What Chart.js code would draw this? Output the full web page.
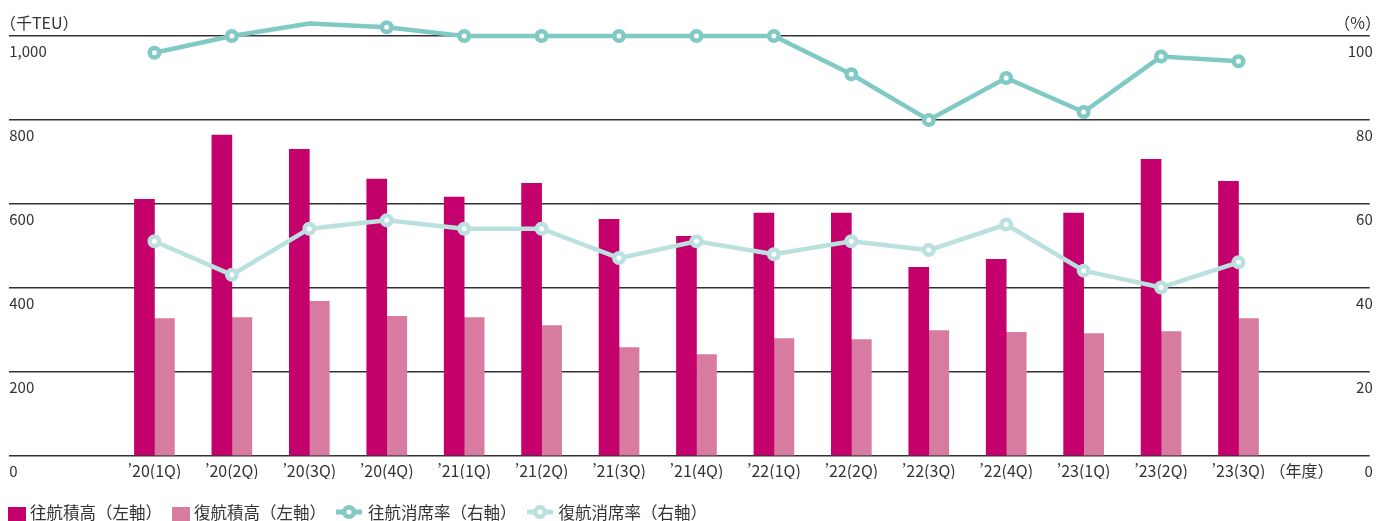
<!DOCTYPE html>
<html lang="ja">
<head>
<meta charset="utf-8">
<title>往航・復航 積高と消席率</title>
<script src="https://cdn.jsdelivr.net/npm/chart.js@4"></script>
<style>
	body { margin: 0; background: #ffffff; }
	#wrap { position: relative; width: 1379px; height: 521px; overflow: hidden; }
	#legend { position: absolute; left: 8px; top: 502px; display: flex; gap: 10px; font: 16.5px "Noto Sans CJK JP", sans-serif; line-height: 20px; color: #333333; white-space: nowrap; }
	#legend .item { display: flex; align-items: flex-start; }
	#legend .box { width: 18px; height: 18px; margin: 5px 4px 0 0; }
	#legend svg { margin: 3px 6px 0 0; }
</style>
</head>
<body>
<div id="wrap">
	<canvas id="chart"></canvas>
	<div id="legend"></div>
</div>
<script>
const quarters = ["’20(1Q)", "’20(2Q)", "’20(3Q)", "’20(4Q)", "’21(1Q)", "’21(2Q)", "’21(3Q)", "’21(4Q)", "’22(1Q)", "’22(2Q)", "’22(3Q)", "’22(4Q)", "’23(1Q)", "’23(2Q)", "’23(3Q)"];
const yearLabel = "（年度）";
const leftUnit = "（千TEU）";
const rightUnit = "（%）";

// 千TEU (左軸)
const outboundVolume = [611, 764, 730, 659, 616, 649, 563, 523, 578, 578, 449, 468, 578, 706, 654];
const inboundVolume = [327, 329, 368, 332, 329, 310, 258, 241, 279, 277, 298, 294, 291, 296, 327];

// % (右軸)
const outboundLoadFactor = [96.0, 100, 103.0, 102.1, 100, 100, 100, 100, 100, 90.9, 80.0, 90.0, 81.9, 95.1, 94.0];
const inboundLoadFactor = [51.1, 43.1, 54.1, 56.1, 54.1, 54.1, 47.1, 51.1, 48.0, 51.1, 49.0, 55.1, 44.1, 40.1, 46.1];

const seriesNames = ["往航積高（左軸）", "復航積高（左軸）", "往航消席率（右軸）", "復航消席率（右軸）"];

const magenta = "#c3006b";
const pink = "#d77ca0";
const teal = "#80c9c4";
const lightTeal = "#bbe1df";
const textColor = "#333333";
const fontFamily = "'Noto Sans CJK JP', 'Noto Sans', sans-serif";

const points = values => values.map((v, i) => ({ x: i, y: v }));

function barSet(label, values, color) {
	return {
		type: "bar",
		label: label,
		data: points(values),
		backgroundColor: color,
		barThickness: 20,
		yAxisID: "y",
		order: 2
	};
}

function lineSet(label, values, color) {
	return {
		type: "line",
		label: label,
		data: points(values),
		borderColor: color,
		borderWidth: 4.5,
		pointRadius: 4.75,
		pointBorderWidth: 4.5,
		pointBackgroundColor: "#ffffff",
		pointBorderColor: color,
		tension: 0,
		clip: false,
		yAxisID: "y1",
		order: 1
	};
}

const unitTitles = {
	id: "unitTitles",
	afterDraw(chart) {
		const ctx = chart.ctx;
		ctx.save();
		ctx.font = "16px " + fontFamily;
		ctx.fillStyle = textColor;
		ctx.textBaseline = "middle";
		ctx.textAlign = "left";
		ctx.fillText(leftUnit, 0, 23);
		ctx.textAlign = "right";
		ctx.fillText(rightUnit, chart.width + 2, 23);
		ctx.restore();
	}
};

const chart = new Chart(document.getElementById("chart"), {
	type: "bar",
	data: {
		datasets: [
			barSet(seriesNames[0], outboundVolume, magenta),
			barSet(seriesNames[1], inboundVolume, pink),
			lineSet(seriesNames[2], outboundLoadFactor, teal),
			lineSet(seriesNames[3], inboundLoadFactor, lightTeal)
		]
	},
	options: {
		responsive: true,
		maintainAspectRatio: false,
		animation: false,
		devicePixelRatio: 1,
		layout: { padding: { top: 36, left: 8, right: 3, bottom: 42 } },
		plugins: {
			legend: { display: false },
			tooltip: { enabled: false }
		},
		scales: {
			x: {
				type: "linear",
				min: -1.875,
				max: 15.695,
				offset: false,
				grid: { display: false },
				border: { display: false },
				afterBuildTicks: axis => {
					axis.ticks = quarters.map((_, i) => ({ value: i })).concat([{ value: 14.815 }]);
				},
				ticks: {
					autoSkip: false,
					maxRotation: 0,
					padding: -2,
					color: textColor,
					font: { family: fontFamily, size: 16 },
					callback: (value, index) => index < quarters.length ? quarters[index] : yearLabel
				}
			},
			y: {
				position: "left",
				min: 0,
				max: 1000,
				grid: { color: "#333333", lineWidth: 1.4, drawTicks: false },
				border: { display: false },
				ticks: {
					stepSize: 200,
					mirror: true,
					padding: 0,
					labelOffset: 15,
					color: textColor,
					font: { family: fontFamily, size: 15 }
				}
			},
			y1: {
				position: "right",
				min: 0,
				max: 100,
				grid: { display: false, drawTicks: false },
				border: { display: false },
				ticks: {
					stepSize: 20,
					mirror: true,
					padding: 3,
					labelOffset: 15,
					color: textColor,
					font: { family: fontFamily, size: 15 }
				}
			}
		}
	},
	plugins: [unitTitles]
});

// 凡例
const legend = document.getElementById("legend");
chart.data.datasets.forEach(ds => {
	const item = document.createElement("div");
	item.className = "item";
	if (ds.type === "bar") {
		const box = document.createElement("span");
		box.className = "box";
		box.style.background = ds.backgroundColor;
		item.appendChild(box);
	} else {
		item.insertAdjacentHTML("beforeend",
			`<svg width="26" height="14"><line x1="0" y1="7" x2="26" y2="7" stroke="${ds.borderColor}" stroke-width="5"/>` +
			`<circle cx="13" cy="7" r="4.75" fill="#ffffff" stroke="${ds.borderColor}" stroke-width="4.5"/></svg>`);
	}
	const text = document.createElement("span");
	text.textContent = ds.label;
	item.appendChild(text);
	legend.appendChild(item);
});
</script>
</body>
</html>
